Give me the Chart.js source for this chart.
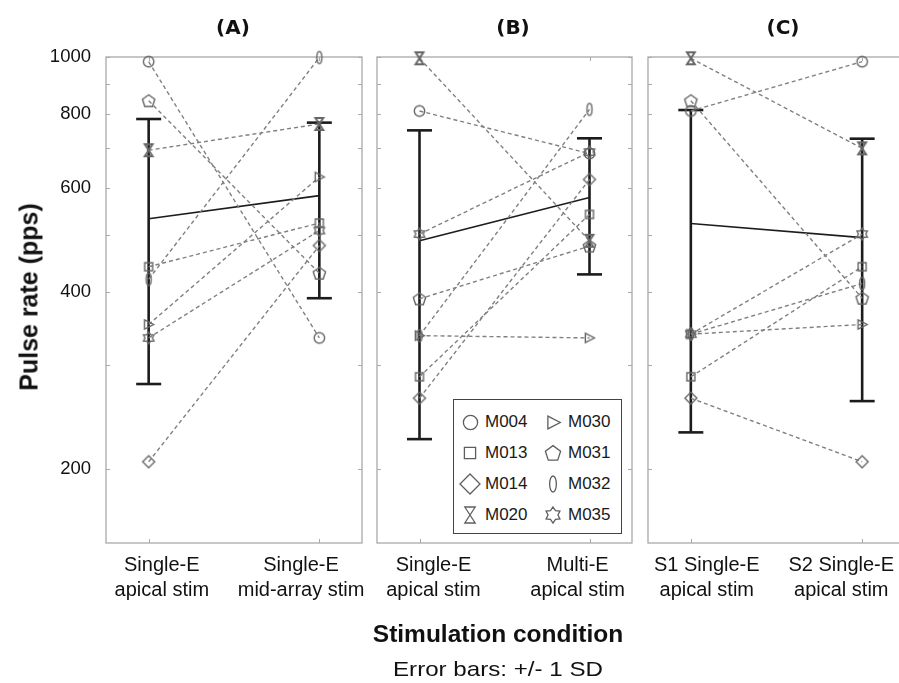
<!DOCTYPE html>
<html>
<head>
<meta charset="utf-8">
<title>Pulse rate by stimulation condition</title>
<script src="https://cdn.jsdelivr.net/npm/chart.js@4.4.0/dist/chart.umd.min.js"></script>
<style>
  html, body { margin: 0; padding: 0; background: #fff; overflow: hidden; }
  #wrap { position: relative; width: 899px; height: 683px; overflow: hidden;
          font-family: "Liberation Sans", Arial, sans-serif; color: #111; }
  #wrap canvas { position: absolute; top: 0; }
  .txt { position: absolute; white-space: nowrap; transform: translate(-50%, -50%); line-height: 1; }
  .panel-title { font: bold 20px "DejaVu Sans", sans-serif; }
  #ytitle { font-weight: bold; font-size: 25px; transform: translate(-50%, -50%) rotate(-90deg); }
  #xtitle { font-weight: bold; font-size: 24.5px; }
  #note { font-size: 21px; transform: translate(-50%, -50%) scaleX(1.15); }
  #legend { position: absolute; left: 453px; top: 399px; width: 169px; height: 135px;
            border: 1.5px solid #444; background: #fff; box-sizing: border-box; }
  #legend .item { position: absolute; height: 20px; }
  #legend canvas { position: absolute; }
  #legend span { position: absolute; font-size: 17px; color: #1a1a1a; line-height: 20px; top: 0; }
</style>
</head>
<body>
<div id="wrap">
  <canvas id="panelA" width="375" height="683" style="left:0px"></canvas>
  <canvas id="panelB" width="270" height="683" style="left:370px"></canvas>
  <canvas id="panelC" width="270" height="683" style="left:640px"></canvas>

  <div class="txt panel-title" style="left:233px; top:27px">(A)</div>
  <div class="txt panel-title" style="left:513px; top:27px">(B)</div>
  <div class="txt panel-title" style="left:783px; top:27px">(C)</div>

  <div class="txt" id="ytitle" style="left:29px; top:297px">Pulse rate (pps)</div>
  <div class="txt" id="xtitle" style="left:498px; top:634px">Stimulation condition</div>
  <div class="txt" id="note" style="left:498px; top:668px">Error bars: +/- 1 SD</div>

  <div id="legend"></div>
</div>

<script>
const subjects = ['M004', 'M013', 'M014', 'M020', 'M030', 'M031', 'M032', 'M035'];
const markerShapes = ['circle', 'square', 'diamond', 'hourglass', 'triangle', 'pentagon', 'ellipse', 'star'];

const labelsA = [['Single-E', 'apical stim'], ['Single-E', 'mid-array stim']];
const labelsB = [['Single-E', 'apical stim'], ['Multi-E', 'apical stim']];
const labelsC = [['S1 Single-E', 'apical stim'], ['S2 Single-E', 'apical stim']];

// pulse rate (pps) per subject, same order as subjects
const apicalA   = [982, 441, 206, 695, 352, 843, 420, 334];
const midArrayA = [334, 523, 479, 770, 626, 430, 998, 508];
const singleB   = [810, 287, 264, 995, 337, 389, 337, 501];
const multiB    = [686, 541, 620, 488, 334, 478, 815, 690];
const s1C       = [810, 287, 264, 995, 339, 843, 339, 339];
const s2C       = [982, 441, 206, 700, 352, 390, 413, 501];

// group mean and SD per condition
const meanA = [532, 582], sdA = [253, 192];
const meanB = [488, 578], sdB = [263, 150];
const meanC = [522, 494], sdC = [291, 233];

const conditionX = [1, 2];
const yTicks = [200, 400, 600, 800, 1000];
const yMinorTicks = [200, 300, 400, 500, 600, 700, 800, 900, 1000];

// x positions of the two-line condition labels in each panel
const labelPosA = [1.077, 1.893];
const labelPosB = [1.082, 1.93];
const labelPosC = [1.093, 1.878];

function marker(shape, s, color, lw) {
  const c = document.createElement('canvas');
  c.width = c.height = Math.ceil(s + 4);
  const g = c.getContext('2d');
  g.strokeStyle = color;
  g.lineWidth = lw;
  g.translate(c.width / 2, c.height / 2);
  const r = s / 2;
  g.beginPath();
  if (shape === 'circle') {
    g.arc(0, 0, r * 0.95, 0, Math.PI * 2);
  } else if (shape === 'square') {
    g.rect(-r * 0.8, -r * 0.8, r * 1.6, r * 1.6);
  } else if (shape === 'diamond') {
    g.moveTo(0, -r); g.lineTo(r, 0); g.lineTo(0, r); g.lineTo(-r, 0); g.closePath();
  } else if (shape === 'hourglass') {
    g.moveTo(-r * 0.65, -r); g.lineTo(r * 0.65, -r); g.lineTo(-r * 0.65, r); g.lineTo(r * 0.65, r); g.closePath();
  } else if (shape === 'triangle') {
    g.moveTo(-r * 0.75, -r * 0.85); g.lineTo(r * 0.9, 0); g.lineTo(-r * 0.75, r * 0.85); g.closePath();
  } else if (shape === 'pentagon') {
    for (let i = 0; i < 5; i++) {
      const a = -Math.PI / 2 + i * 2 * Math.PI / 5;
      g.lineTo(Math.cos(a) * r, Math.sin(a) * r + r * 0.08);
    }
    g.closePath();
  } else if (shape === 'ellipse') {
    g.ellipse(0, 0, r * 0.42, r, 0, 0, Math.PI * 2);
  } else if (shape === 'star') {
    for (let i = 0; i < 12; i++) {
      const a = -Math.PI / 2 + i * Math.PI / 6;
      const rr = i % 2 ? r * 0.62 : r;
      g.lineTo(Math.cos(a) * rr, Math.sin(a) * rr);
    }
    g.closePath();
  }
  g.stroke();
  return c;
}

const chartSizes = [11, 10, 12, 12, 11, 13, 12, 12];
const chartMarkers = markerShapes.map((m, i) => marker(m, chartSizes[i], '#666', m === 'hourglass' ? 2 : 1.4));

function panelDatasets(first, second, mean, sd) {
  const sets = [];
  sets.push({
    label: 'SD',
    data: [
      {x: conditionX[0], y: mean[0] - sd[0]}, {x: conditionX[0], y: mean[0] + sd[0]},
      {x: conditionX[0], y: null},
      {x: conditionX[1], y: mean[1] - sd[1]}, {x: conditionX[1], y: mean[1] + sd[1]}
    ],
    borderColor: '#1c1c1c', borderWidth: 2.6, spanGaps: false,
    pointStyle: 'line', pointRadius: 12.5, pointBorderWidth: 2.6,
    pointBorderColor: '#1c1c1c', clip: false, order: 3
  });
  sets.push({
    label: 'mean',
    data: [{x: conditionX[0], y: mean[0]}, {x: conditionX[1], y: mean[1]}],
    borderColor: '#1c1c1c', borderWidth: 1.6, pointRadius: 0, order: 2
  });
  subjects.forEach((name, i) => {
    sets.push({
      label: name,
      data: [{x: conditionX[0], y: first[i]}, {x: conditionX[1], y: second[i]}],
      borderColor: '#808080', borderWidth: 1.4, borderDash: [4, 3],
      pointStyle: chartMarkers[i], pointRadius: 5, clip: false, order: 1
    });
  });
  return sets;
}

// light frame with inward tick marks
const framePlugin = {
  id: 'frame',
  beforeDatasetsDraw(chart) {
    const {ctx, chartArea: a, scales: {x, y}} = chart;
    ctx.save();
    ctx.strokeStyle = '#a9a9a9';
    ctx.lineWidth = 1.3;
    ctx.strokeRect(a.left, a.top, a.right - a.left, a.bottom - a.top);
    ctx.beginPath();
    yMinorTicks.forEach(v => {
      const py = Math.round(y.getPixelForValue(v)) + 0.5;
      ctx.moveTo(a.left, py); ctx.lineTo(a.left + 4, py);
      ctx.moveTo(a.right, py); ctx.lineTo(a.right - 4, py);
    });
    conditionX.forEach(v => {
      const px = Math.round(x.getPixelForValue(v)) + 0.5;
      ctx.moveTo(px, a.bottom); ctx.lineTo(px, a.bottom - 4);
      ctx.moveTo(px, a.top); ctx.lineTo(px, a.top + 4);
    });
    ctx.lineWidth = 1;
    ctx.stroke();
    ctx.restore();
  }
};

function makePanel(id, labels, labelPos, datasets, padding, showY) {
  return new Chart(document.getElementById(id), {
    type: 'line',
    data: { datasets },
    options: {
      responsive: false,
      animation: false,
      events: [],
      layout: { padding, autoPadding: false },
      plugins: { legend: { display: false }, tooltip: { enabled: false } },
      scales: {
        x: {
          type: 'linear', min: 0.75, max: 2.25,
          afterBuildTicks: s => { s.ticks = labelPos.map(v => ({ value: v })); },
          // fixed height, and no extra side room for the wide labels
          afterFit: s => { s.height = 140; s.paddingLeft = 0; s.paddingRight = 0; },
          grid: { display: false, drawTicks: false },
          border: { display: false },
          ticks: {
            autoSkip: false, maxRotation: 0, padding: 10, color: '#111',
            font: { family: 'Liberation Sans', size: 20, lineHeight: 1.25 },
            callback: (v, i) => labels[i]
          }
        },
        y: {
          type: 'logarithmic', min: 150, max: 1000,
          display: showY,
          afterBuildTicks: s => { s.ticks = yTicks.map(v => ({ value: v })); },
          afterFit: s => { s.width = showY ? 106 : 0; s.paddingTop = 0; s.paddingBottom = 0; },
          grid: { display: false, drawTicks: false },
          border: { display: false },
          ticks: {
            padding: 15, color: '#111',
            font: { family: 'Liberation Sans', size: 18.5 },
            callback: v => String(v)
          }
        }
      }
    },
    plugins: [framePlugin]
  });
}

makePanel('panelA', labelsA, labelPosA, panelDatasets(apicalA, midArrayA, meanA, sdA),
  { top: 57, right: 13, left: 0, bottom: 0 }, true);
makePanel('panelB', labelsB, labelPosB, panelDatasets(singleB, multiB, meanB, sdB),
  { top: 57, right: 8, left: 7, bottom: 0 }, false);
makePanel('panelC', labelsC, labelPosC, panelDatasets(s1C, s2C, meanC, sdC),
  { top: 57, right: 5, left: 8, bottom: 0 }, false);

// legend in panel B, two columns of four subjects
const legend = document.getElementById('legend');
const legendSizes = [15, 14, 20, 16, 15, 16, 16, 16];
subjects.forEach((name, i) => {
  const col = Math.floor(i / 4), row = i % 4;
  const item = document.createElement('div');
  item.className = 'item';
  item.style.left = (col * 83) + 'px';
  item.style.top = (12 + row * 31) + 'px';
  const m = marker(markerShapes[i], legendSizes[i], '#5e5e5e', 1.3);
  m.style.left = (16 - m.width / 2) + 'px';
  m.style.top = (10 - m.height / 2) + 'px';
  const t = document.createElement('span');
  t.textContent = name;
  t.style.left = '31px';
  item.appendChild(m);
  item.appendChild(t);
  legend.appendChild(item);
});
</script>
</body>
</html>
